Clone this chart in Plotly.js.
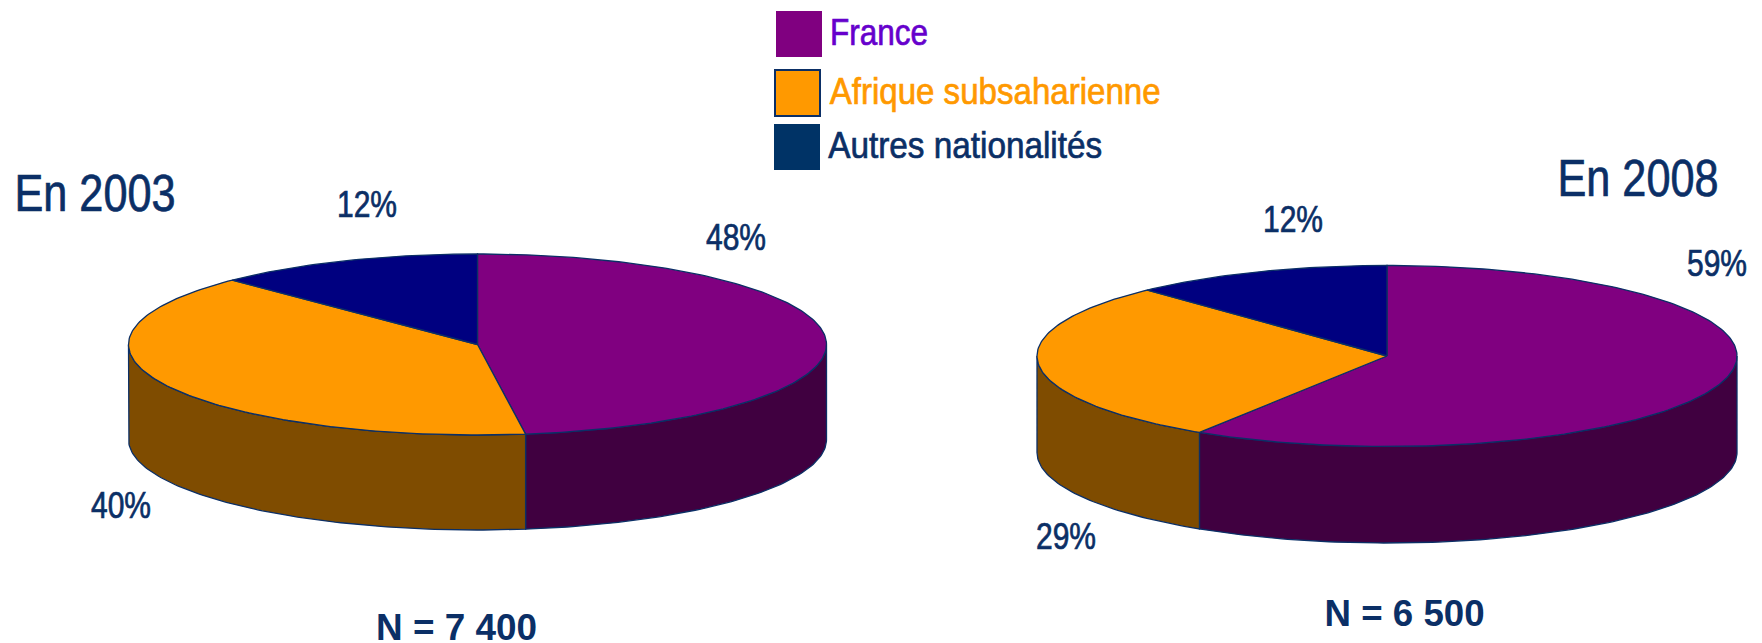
<!DOCTYPE html>
<html><head><meta charset="utf-8">
<script src="https://cdn.plot.ly/plotly-3.0.1.min.js"></script>
<style>html,body{margin:0;padding:0;background:#fff;overflow:hidden}#c{width:1762px;height:643px}</style>
</head><body><div id="c"></div>
<script>
// Data
const categories = ['France', 'Afrique subsaharienne', 'Autres nationalités'];
const shares2003 = [47.8, 39.8, 12.4];
const shares2008 = [59, 29, 12];
const titleLabels = ['En 2003', 'En 2008'];
const countLabels = ['N = 7 400', 'N = 6 500'];

// Styles
const topColors = ['#800080', '#FF9900', '#000080'];
const sideColors = ['#400040', '#7F4C00', '#000040'];
const swatchColors = ['#800080', '#FF9900', '#003366'];
const legendTextColors = ['#6600CC', '#FF9900', '#0B2F66'];
const ink = '#0B2F66';
const edge = '#0B2F66';
const sans = '"Liberation Sans",Arial,sans-serif';

const pies = [
  {shares: shares2003, cx: 477.5, cy: 344.5, rx: 349, ry: 90.5, depth: 95},
  {shares: shares2008, cx: 1387, cy: 356, rx: 350, ry: 90.5, depth: 96.5}
];

function arc(p, a0, a1, dy) {
  const xs = [], ys = [];
  const n = Math.max(2, Math.ceil(Math.abs(a1 - a0) / 1));
  for (let i = 0; i <= n; i++) {
    const a = (a0 + (a1 - a0) * i / n) * Math.PI / 180;
    xs.push(p.cx + p.rx * Math.sin(a));
    ys.push(p.cy - p.ry * Math.cos(a) + dy);
  }
  return [xs, ys];
}

const traces = [];
function poly(xs, ys, color) {
  traces.push({type: 'scatter', mode: 'lines', x: xs, y: ys, fill: 'toself',
    fillcolor: color, line: {color: edge, width: 1.3}, hoverinfo: 'skip', showlegend: false});
}

pies.forEach(p => {
  const total = p.shares.reduce((s, v) => s + v, 0);
  let start = 0;
  const spans = p.shares.map(v => { const s = [start, start + v / total * 360]; start = s[1]; return s; });
  spans.forEach((s, i) => {
    const a0 = Math.max(s[0], 90), a1 = Math.min(s[1], 270);
    if (a1 <= a0) return;
    const [tx, ty] = arc(p, a0, a1, 0);
    const [bx, by] = arc(p, a0, a1, p.depth);
    poly(tx.concat(bx.reverse(), [tx[0]]), ty.concat(by.reverse(), [ty[0]]), sideColors[i]);
  });
  spans.forEach((s, i) => {
    const [tx, ty] = arc(p, s[0], s[1], 0);
    poly([p.cx].concat(tx, [p.cx]), [p.cy].concat(ty, [p.cy]), topColors[i]);
  });
});

// each text: its centre, size and the drawn width of the condensed lettering
const widths = [];
function note(text, x, y, size, color, w, bold) {
  widths.push({w, bold});
  return {text, x, y, xref: 'x', yref: 'y', showarrow: false, xanchor: 'center', yanchor: 'middle',
    font: {size, color, family: sans, weight: bold ? 700 : 400}};
}
const pct = v => Math.round(v) + '%';
const annotations = [
  note(titleLabels[0], 94.5, 193, 51, ink, 161),
  note(titleLabels[1], 1638, 178, 51, ink, 161),
  note(countLabels[0], 456, 627, 36, ink, 161, true),
  note(countLabels[1], 1404.5, 613, 36, ink, 160, true),
  note(pct(shares2003[0]), 736, 237.5, 36, ink, 60),
  note(pct(shares2003[1]), 120.5, 505.5, 36, ink, 60),
  note(pct(shares2003[2]), 367, 204, 36, ink, 60),
  note(pct(shares2008[0]), 1717, 263, 36, ink, 60),
  note(pct(shares2008[1]), 1066, 536, 36, ink, 60),
  note(pct(shares2008[2]), 1293, 219, 36, ink, 60),
  note(categories[0], 879, 32, 36, legendTextColors[0], 98),
  note(categories[1], 994.5, 91.5, 36, legendTextColors[1], 331),
  note(categories[2], 965, 145.5, 37, legendTextColors[2], 274)
];

const swatches = [
  [776, 822, 11, 57, 0], [775, 820, 70, 116, 1], [774, 820, 124, 170, 2]
].map(([x0, x1, y0, y1, i]) => ({type: 'rect', xref: 'x', yref: 'y', x0, x1, y0, y1,
  fillcolor: swatchColors[i], line: i === 1 ? {color: '#0B2F66', width: 2} : {width: 0}}));

Plotly.newPlot('c', traces, {
  width: 1762, height: 643, margin: {l: 0, r: 0, t: 0, b: 0},
  paper_bgcolor: '#fff', plot_bgcolor: '#fff', showlegend: false,
  xaxis: {range: [0, 1762], visible: false, fixedrange: true},
  yaxis: {range: [643, 0], visible: false, fixedrange: true},
  annotations, shapes: swatches
}, {displayModeBar: false, staticPlot: true}).then(gd => {
  // no condensed font is installed: squeeze the real text to the reference's width
  gd.querySelectorAll('.annotation-text').forEach((t, i) => {
    t.setAttribute('textLength', widths[i].w);
    t.setAttribute('lengthAdjust', 'spacingAndGlyphs');
    if (!widths[i].bold) {
      t.style.stroke = t.style.fill;
      t.style.strokeWidth = '0.7px';
    }
  });
});
</script></body></html>
